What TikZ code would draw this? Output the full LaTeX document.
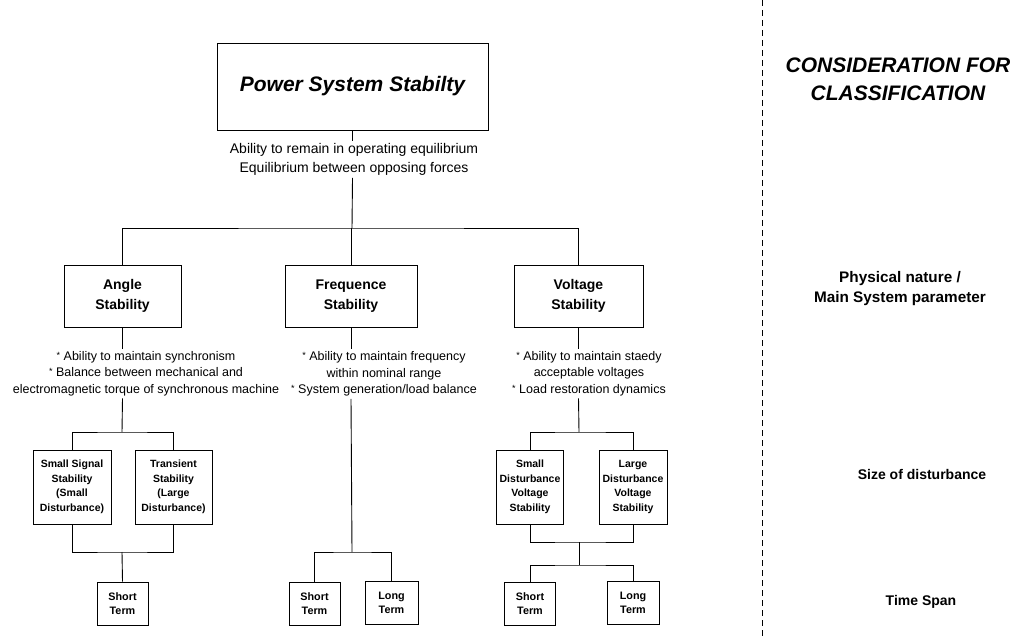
\documentclass[tikz,border=0pt]{standalone}
\usepackage{fontspec}
\setmainfont{Liberation Sans}
\newcommand\bulletmark{\raisebox{2pt}{\fontsize{9}{9}\selectfont *}\ }
\begin{document}
\begin{tikzpicture}[x=1pt,y=-1pt,line width=0.9pt,
  titlebox/.style={draw,inner sep=0pt,minimum width=271pt,minimum height=87pt,
    font=\bfseries\itshape\fontsize{21}{25}\selectfont},
  mainbox/.style={draw,inner sep=0pt,align=center,minimum height=62pt,
    font=\bfseries\fontsize{14}{19.5}\selectfont},
  subbox/.style={draw,inner sep=0pt,align=center,minimum height=74pt,
    font=\bfseries\fontsize{10.5}{14.5}\selectfont},
  termbox/.style={draw,inner sep=0pt,align=center,minimum width=51pt,minimum height=43pt,
    font=\bfseries\fontsize{10.8}{14}\selectfont},
  topnote/.style={inner sep=2pt,align=center,font=\fontsize{14}{19}\selectfont},
  note/.style={inner sep=2pt,align=center,font=\fontsize{12.5}{16.5}\selectfont},
  sidehead/.style={inner sep=0pt,align=center,font=\bfseries\itshape\fontsize{21}{28}\selectfont},
  side/.style={inner sep=0pt,align=center,font=\bfseries\fontsize{14}{20}\selectfont}]
\useasboundingbox (0,0) rectangle (1019,636);

% root of the classification
\node[titlebox] (top) at (352.5,86.5) {Power System Stabilty};
\node[topnote] (topdesc) at (354,159.5) {Ability to remain in operating equilibrium\\Equilibrium between opposing forces};

% three main categories
\node[mainbox,minimum width=117pt] (angle) at (122.5,296) {Angle\\Stability};
\node[mainbox,minimum width=132pt] (freq) at (351,296) {Frequence\\Stability};
\node[mainbox,minimum width=129pt] (volt) at (578.5,296) {Voltage\\Stability};

\node[note] (adesc) at (146,373.5) {\bulletmark Ability to maintain synchronism\\\bulletmark Balance between mechanical and\\electromagnetic torque of synchronous machine};
\node[note] (fdesc) at (384,374) {\bulletmark Ability to maintain frequency\\within nominal range\\\bulletmark System generation/load balance};
\node[note] (vdesc) at (589,373.5) {\bulletmark Ability to maintain staedy\\acceptable voltages\\\bulletmark Load restoration dynamics};

% sub-categories
\node[subbox,minimum width=78pt] (ss) at (72,487) {Small Signal\\Stability\\(Small\\Disturbance)};
\node[subbox,minimum width=77pt] (tr) at (173.5,487) {Transient\\Stability\\(Large\\Disturbance)};
\node[subbox,minimum width=67pt] (sdv) at (530,487) {Small\\Disturbance\\Voltage\\Stability};
\node[subbox,minimum width=68pt] (ldv) at (633,487) {Large\\Disturbance\\Voltage\\Stability};

% time span
\node[termbox] (ashort) at (122.5,603.5) {Short\\Term};
\node[termbox] (fshort) at (314.5,603.5) {Short\\Term};
\node[termbox,minimum width=53pt] (flong) at (391.5,602.5) {Long\\Term};
\node[termbox] (vshort) at (530,603.5) {Short\\Term};
\node[termbox,minimum width=52pt] (vlong) at (633,602.5) {Long\\Term};

% junction points
\coordinate (h0) at (352,228);
\coordinate (aj) at (122,432);
\coordinate (ab) at (122,552);
\coordinate (fb) at (352,552);
\coordinate (vj) at (579,432);
\coordinate (vm) at (579,542);
\coordinate (vb) at (579,565);

% connectors
\draw (top) -- (top |- topdesc.north);
\draw (top |- topdesc.south) -- (h0);
\draw (angle.north) |- (h0) -| (volt.north);
\draw (freq.north) -- (freq.north |- h0);

\draw (angle.south) -- (angle.south |- adesc.north);
\draw (angle.south |- adesc.south) -- (aj);
\draw (ss.north) |- (aj) -| (tr.north);
\draw (ss.south) |- (ab) -| (tr.south);
\draw (ab) -- (ashort.north);

\draw (freq.south) -- (freq.south |- fdesc.north);
\draw (freq.south |- fdesc.south) -- (fb);
\draw (fshort.north) |- (fb) -| (flong.north);

\draw (volt.south) -- (volt.south |- vdesc.north);
\draw (volt.south |- vdesc.south) -- (vj);
\draw (sdv.north) |- (vj) -| (ldv.north);
\draw (sdv.south) |- (vm) -| (ldv.south);
\draw (vm) -- (vb);
\draw (vshort.north) |- (vb) -| (vlong.north);

% separator and criteria column
\draw[dashed,dash pattern=on 6pt off 4pt] (762,0) -- (762,636);
\node[sidehead] (cons) at (898,79) {CONSIDERATION FOR\\CLASSIFICATION};
\node[side,font=\bfseries\fontsize{15.3}{20}\selectfont] (phys) at (900,289) {Physical nature /\\Main System parameter};
\node[side] (size) at (922,474) {Size of disturbance};
\node[side] (span) at (921,602) {Time Span};
\end{tikzpicture}
\end{document}
